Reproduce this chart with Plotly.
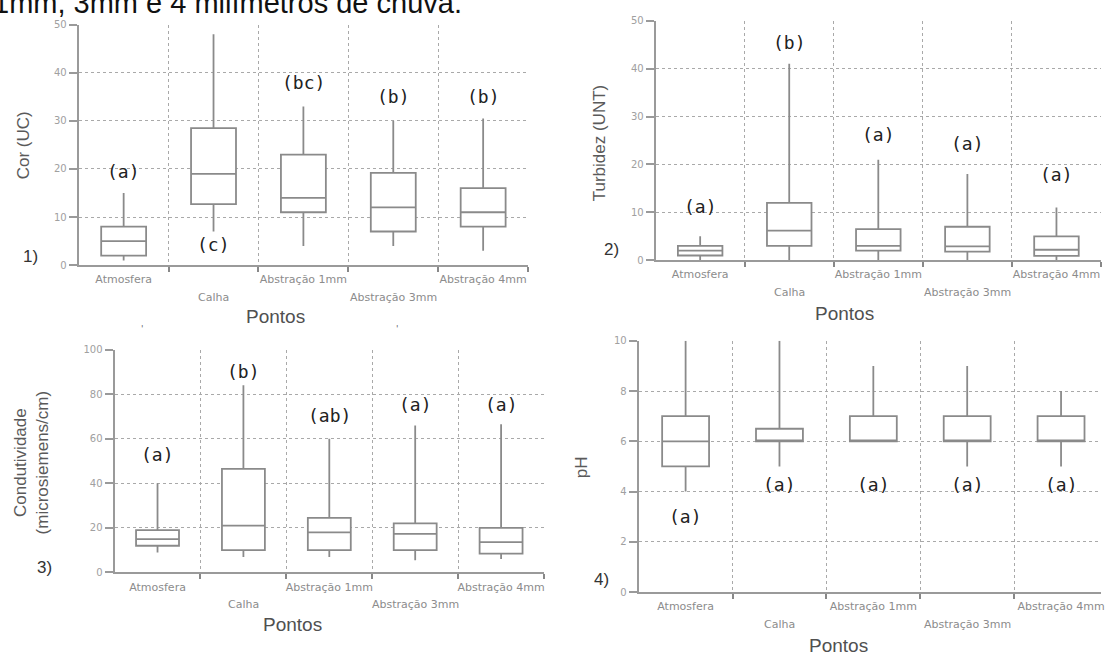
import plotly.graph_objects as go

W, H = 1105, 659

categorias = ["Atmosfera", "Calha", "Abstração 1mm", "Abstração 3mm", "Abstração 4mm"]

# Cor (UC)
cor_min = [1, 7, 4, 4, 3]
cor_q1 = [2, 12.7, 11, 7, 8]
cor_med = [5, 19, 14, 12, 11]
cor_q3 = [8, 28.5, 23, 19.2, 16]
cor_max = [15, 48, 33, 30, 30.5]
cor_letras = ["(a)", "(c)", "(bc)", "(b)", "(b)"]
cor_letras_y = [19.5, 4.2, 38, 35, 35]

# Turbidez (UNT)
turb_min = [0, 0, 0, 0, 0]
turb_q1 = [1, 3, 2, 1.8, 0.9]
turb_med = [2, 6.2, 3, 2.9, 2.2]
turb_q3 = [3, 12, 6.5, 7, 5]
turb_max = [5, 41, 21, 18, 11]
turb_letras = ["(a)", "(b)", "(a)", "(a)", "(a)"]
turb_letras_y = [11.2, 45.5, 26.2, 24.3, 17.8]

# Condutividade (microsiemens/cm)
cond_min = [9, 7, 7, 5.5, 6]
cond_q1 = [12, 10, 10, 10, 8.5]
cond_med = [15, 21, 18, 17.3, 13.6]
cond_q3 = [19, 46.5, 24.5, 22, 20]
cond_max = [40, 84, 60, 66, 66.5]
cond_letras = ["(a)", "(b)", "(ab)", "(a)", "(a)"]
cond_letras_y = [53, 90, 70.5, 75.5, 75.5]

# pH
ph_min = [4, 5, 6, 5, 5]
ph_q1 = [5, 6, 6, 6, 6]
ph_med = [6, 6, 6, 6, 6]
ph_q3 = [7, 6.5, 7, 7, 7]
ph_max = [10, 10, 9, 9, 8]
ph_letras = ["(a)", "(a)", "(a)", "(a)", "(a)"]
ph_letras_y = [3.0, 4.3, 4.3, 4.3, 4.3]

cabecalho = "1mm, 3mm e 4 milímetros de chuva."


def px(x):
    return x / W


def py(y):
    return 1 - y / H


GRAY_LINE = "#9a9a9a"
GRID = "#a9a9a9"
BOX = "#8a8a8a"

# pixel frames of each panel: left, right, top, bottom, y max, y step
paineis = [
    dict(n="1", l=79, r=530, t=19, b=264, ymax=50, dy=10,
         stats=(cor_min, cor_q1, cor_med, cor_q3, cor_max),
         letras=cor_letras, letras_y=cor_letras_y,
         ytitle="Cor (UC)", ytx=23, yty=142, pont=(277, 316), num=(31, 255)),
    dict(n="2", l=658, r=1105, t=15, b=259, ymax=50, dy=10,
         stats=(turb_min, turb_q1, turb_med, turb_q3, turb_max),
         letras=turb_letras, letras_y=turb_letras_y,
         ytitle="Turbidez (UNT)", ytx=602, yty=139, pont=(848, 313), num=(614, 248)),
    dict(n="3", l=115, r=546, t=350, b=577, ymax=100, dy=20,
         stats=(cond_min, cond_q1, cond_med, cond_q3, cond_max),
         letras=cond_letras, letras_y=cond_letras_y,
         ytitle="Condutividade<br>(microsiemens/cm)", ytx=32, yty=465, pont=(294, 630), num=(45, 572)),
    dict(n="4", l=641, r=1112, t=341, b=597, ymax=10, dy=2,
         stats=(ph_min, ph_q1, ph_med, ph_q3, ph_max),
         letras=ph_letras, letras_y=ph_letras_y,
         ytitle="pH", ytx=584, yty=470, pont=(842, 651), num=(604, 584)),
]

posicoes = list(range(len(categorias)))
divisoes = [p + 0.5 for p in posicoes]

fig = go.Figure()
annotations = []
layout_axes = {}

for i, p in enumerate(paineis, start=1):
    xa = "x" if i == 1 else f"x{i}"
    ya = "y" if i == 1 else f"y{i}"
    lo, q1, med, q3, hi = p["stats"]
    fig.add_trace(go.Box(
        x=posicoes, lowerfence=lo, q1=q1, median=med, q3=q3, upperfence=hi,
        xaxis=xa, yaxis=ya, width=0.5, whiskerwidth=0,
        fillcolor="white", line=dict(color=BOX, width=1.8),
        boxpoints=False, hoverinfo="skip", showlegend=False,
    ))

    cat_w = (p["r"] - p["l"]) / 5.0
    right_px = min(p["r"], W)
    x_hi = -0.5 + (right_px - p["l"]) / cat_w

    key_x = "xaxis" if i == 1 else f"xaxis{i}"
    key_y = "yaxis" if i == 1 else f"yaxis{i}"
    layout_axes[key_x] = dict(
        domain=[px(p["l"]), px(right_px)], range=[-0.5, x_hi], anchor=ya,
        tickmode="array", tickvals=posicoes[0::2], ticktext=categorias[0::2],
        ticks="", showgrid=False, zeroline=False,
        showline=True, linecolor=GRAY_LINE, linewidth=2,
        tickfont=dict(family="DejaVu Sans", size=11, color="#8c8c8c"),
        ticklabelstandoff=3, ticklabeloverflow="allow",
        minor=dict(tickmode="array", tickvals=divisoes, showgrid=True,
                   gridcolor=GRID, griddash="dot", gridwidth=1.2,
                   ticks="outside", ticklen=5, tickcolor="#888888", tickwidth=2),
        fixedrange=True,
    )
    layout_axes[key_y] = dict(
        domain=[py(p["b"]), py(p["t"])], range=[0, p["ymax"]], anchor=xa,
        tickmode="linear", tick0=0, dtick=p["dy"],
        ticks="outside", ticklen=8, tickcolor="#9a9a9a", tickwidth=1.5,
        showgrid=True, gridcolor=GRID, griddash="dot", gridwidth=1.2,
        zeroline=False, showline=True, linecolor=GRAY_LINE, linewidth=2,
        tickfont=dict(family="DejaVu Sans", size=10, color="#a0a0a0"),
        fixedrange=True,
    )

    # second row of category labels (staggered)
    for k in posicoes[1::2]:
        annotations.append(dict(
            x=k, xref=xa, y=py(p["b"] + 33), yref="paper",
            text=categorias[k], showarrow=False, xanchor="center", yanchor="middle",
            font=dict(family="DejaVu Sans", size=11, color="#8c8c8c"),
        ))

    # significance letters
    for k, (txt, yv) in enumerate(zip(p["letras"], p["letras_y"])):
        annotations.append(dict(
            x=k, xref=xa, y=yv, yref=ya, text=txt, showarrow=False,
            xanchor="center", yanchor="middle",
            font=dict(family="DejaVu Sans Mono", size=18, color="#222222"),
        ))

    # y title
    annotations.append(dict(
        x=px(p["ytx"]), y=py(p["yty"]), xref="paper", yref="paper",
        text=p["ytitle"], textangle=-90, showarrow=False,
        xanchor="center", yanchor="middle",
        font=dict(family="Liberation Sans", size=17, color="#5a5a5a"),
    ))
    # x title
    annotations.append(dict(
        x=px(p["pont"][0]), y=py(p["pont"][1]), xref="paper", yref="paper",
        text="Pontos", showarrow=False, xanchor="center", yanchor="middle",
        font=dict(family="Liberation Sans", size=19, color="#505050"),
    ))
    # panel number
    annotations.append(dict(
        x=px(p["num"][0]), y=py(p["num"][1]), xref="paper", yref="paper",
        text=p["n"] + ")", showarrow=False, xanchor="center", yanchor="middle",
        font=dict(family="Liberation Sans", size=17, color="#333333"),
    ))

# caption line above the charts (its upper edge runs off the page)
annotations.append(dict(
    x=px(-9), y=py(-3), xref="paper", yref="paper", text=cabecalho,
    showarrow=False, xanchor="left", yanchor="middle",
    font=dict(family="Liberation Sans", size=29, color="#111111"),
))
# small stray marks between the rows
for mx in (143, 398):
    annotations.append(dict(
        x=px(mx), y=py(329), xref="paper", yref="paper", text="'",
        showarrow=False, xanchor="center", yanchor="middle",
        font=dict(family="DejaVu Sans", size=9, color="#666666"),
    ))

fig.update_layout(
    width=W, height=H, margin=dict(l=0, r=0, t=0, b=0),
    paper_bgcolor="white", plot_bgcolor="white",
    annotations=annotations, showlegend=False,
    **layout_axes,
)

fig.write_html("out.html", config={"displayModeBar": False})
